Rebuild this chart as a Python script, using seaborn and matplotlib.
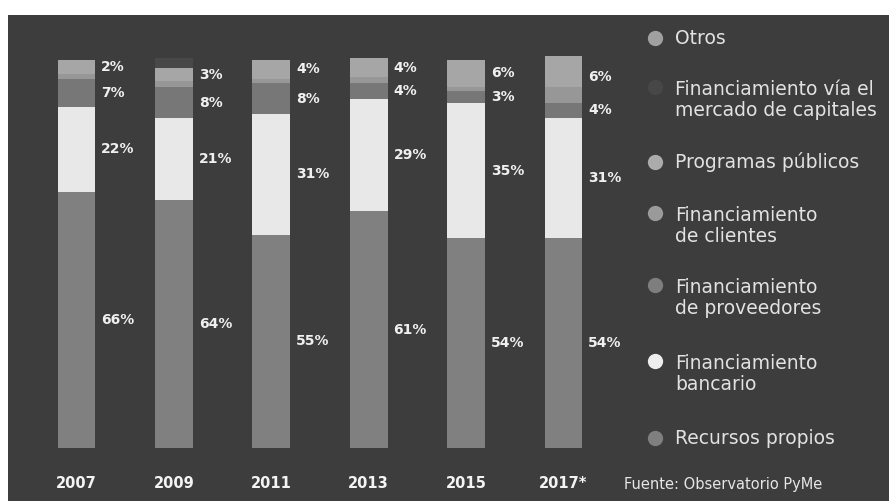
import matplotlib
matplotlib.use("Agg")
import matplotlib.pyplot as plt
from matplotlib.patches import Rectangle
import seaborn as sns
import pandas as pd
import numpy as np

# ---- data ----
years = ["2007", "2009", "2011", "2013", "2015", "2017*"]
recursos_propios = [66, 64, 55, 61, 54, 54]
fin_bancario = [22, 21, 31, 29, 35, 31]
fin_proveedores = [7, 8, 8, 4, 3, 4]
fin_clientes = [1.5, 1.5, 1.0, 1.5, 1.0, 4.0]     # unlabeled
programas_publicos = [2, 3, 4, 4, 6, 6]          # labeled top value
otros = [1.5, 0.5, 1.0, 1.0, 1.0, 2.0]           # unlabeled
mercado_capitales = [0, 2.5, 0, 0, 0, 0]         # unlabeled

series_names = ["Recursos propios", "Financiamiento bancario", "Financiamiento de proveedores",
                "Financiamiento de clientes", "Programas públicos", "Otros",
                "Financiamiento vía el mercado de capitales"]
series_vals = [recursos_propios, fin_bancario, fin_proveedores, fin_clientes,
               programas_publicos, otros, mercado_capitales]
series_colors = ["#808080", "#e8e8e8", "#777777", "#979797", "#a6a6a6", "#a6a6a6", "#484848"]

legend_items = [
    ("Otros", "#a0a0a0"),
    ("Financiamiento vía el\nmercado de capitales", "#474747"),
    ("Programas públicos", "#ababab"),
    ("Financiamiento\nde clientes", "#9a9a9a"),
    ("Financiamiento\nde proveedores", "#7e7e7e"),
    ("Financiamiento\nbancario", "#eeeeee"),
    ("Recursos propios", "#7f7f7f"),
]

BG = "#3d3d3d"
W, H = 889, 501

sns.set_theme(style="white")
plt.rcParams['font.family'] = ['DejaVu Sans']

fig = plt.figure(figsize=(W / 100, H / 100), dpi=100, facecolor="white")
left_px, top_px = 8, 15
# dark panel (white margin at top and left as in reference)
fig.patches.append(Rectangle((left_px / W, 0), (W - left_px) / W + 0.01, (H - top_px) / H,
                             transform=fig.transFigure, facecolor=BG, edgecolor="none",
                             zorder=-10))
ax = fig.add_axes([left_px / W, 0, (W - left_px) / W, (H - top_px) / H])
ax.patch.set_visible(False)

# stacked bars via cumulative overlay
cum = np.cumsum(np.array(series_vals, dtype=float), axis=0)
df = pd.DataFrame({"year": years})
for k in range(len(series_names) - 1, -1, -1):
    df["v"] = cum[k]
    sns.barplot(data=df, x="year", y="v", color=series_colors[k], width=0.39,
                saturation=1, linewidth=0, errorbar=None, ax=ax)

# pixel mapping
unit_x = 97.4
x0_px = 76.5
y0_px = 448
unit_y = 3.88
ax.set_xlim((left_px - x0_px) / unit_x, (W - x0_px) / unit_x)
ax.set_ylim(-(H - y0_px) / unit_y, (y0_px - top_px) / unit_y)
ax.set_axis_off()

lab_kw = dict(color="#f0f0f0", fontsize=10, fontweight="bold", va="center", ha="left")
dx = 0.39 / 2 + 0.06
for i in range(len(years)):
    ax.text(i + dx, recursos_propios[i] / 2, f"{recursos_propios[i]}%", **lab_kw)
    b0 = recursos_propios[i]
    ax.text(i + dx, b0 + fin_bancario[i] / 2, f"{fin_bancario[i]}%", **lab_kw)
    p0 = b0 + fin_bancario[i]
    ax.text(i + dx, p0 + fin_proveedores[i] / 2, f"{fin_proveedores[i]}%", **lab_kw)
    t0 = p0 + fin_proveedores[i]
    top = t0 + fin_clientes[i] + programas_publicos[i] + otros[i]
    ax.text(i + dx, (t0 + top) / 2 + 0.6, f"{programas_publicos[i]}%", **lab_kw)
    ax.text(i, -(484 - y0_px) / unit_y, years[i], color="#f4f4f4", fontsize=10.5,
            fontweight="bold", ha="center", va="center")

# legend (manual)
def fx(px):
    return px / W

def fy(py):
    return 1 - py / H

leg_y = [38, 100, 162, 226, 298, 374, 438]
for (name, col), yy in zip(legend_items, leg_y):
    nlines = name.count("\n") + 1
    dot_y = yy - (13 if nlines == 2 else 0)
    fig.add_artist(plt.Line2D([fx(655)], [fy(dot_y)], marker="o", markersize=11,
                              color=col, markeredgewidth=0, linestyle="none",
                              transform=fig.transFigure))
    fig.text(fx(675), fy(yy), name, color="#e2e2e2", fontsize=13.5, ha="left",
             va="center", linespacing=1.15)

fig.text(fx(624), fy(485), "Fuente: Observatorio PyMe", color="#e6e6e6", fontsize=10.5,
         ha="left", va="center")

fig.savefig("out.png", dpi=100, facecolor="white")
